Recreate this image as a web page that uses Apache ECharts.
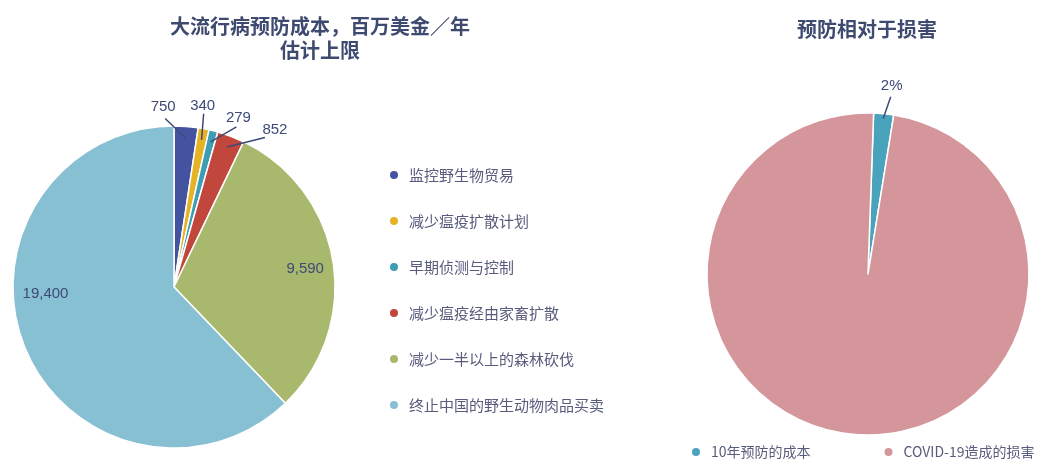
<!DOCTYPE html>
<html>
<head>
<meta charset="utf-8">
<script src="https://cdn.jsdelivr.net/npm/echarts@6/dist/echarts.min.js"></script>
<style>
html,body{margin:0;padding:0;background:#fff;}
#chart{width:1056px;height:466px;}
</style>
</head>
<body>
<div id="chart"></div>
<script>
// ---- data ----
const categories = ['监控野生物贸易', '减少瘟疫扩散计划', '早期侦测与控制', '减少瘟疫经由家畜扩散', '减少一半以上的森林砍伐', '终止中国的野生动物肉品买卖'];
const costValues = [750, 340, 279, 852, 9590, 19400];
const compareCategories = ['10年预防的成本', 'COVID-19造成的损害'];
const compareValues = [2, 98];

// ---- styling / layout ----
const costColors = ['#4353a0', '#e6b324', '#3c9db3', '#c1463c', '#a8b86c', '#88c0d3'];
const compareColors = ['#4aa3bc', '#d4969a'];
const LABEL_COLOR = '#3d4a78';
const LEFT = { cx: 174, cy: 287, r: 161, start: 90 };
const RIGHT = { cx: 868, cy: 274, r: 161, start: 88 };
// label offsets from the slice's outer edge point, and leader-line start relative to label centre
const costLabelOffsets = [[-23, -20], [-1, -23], [25, -13], [44, -7]];
const costLineStarts = [[2, 12], [1, 8], [-2, 9], [-10, 8]];
// inside label offsets from the point at 0.8 radius
const costInsideOffsets = { 4: [4, 2], 5: [-9, -41] };
const compareLabelOffset = [8, -28];
const compareLineStart = [-1, 11];

function midAngle(values, i, start) {
  const total = values.reduce((a, b) => a + b, 0);
  let cum = 0;
  for (let k = 0; k < i; k++) cum += values[k];
  return (90 - start) + 360 * (cum + values[i] / 2) / total;
}
function pt(g, frac, deg) {
  const a = deg * Math.PI / 180;
  return [g.cx + g.r * frac * Math.sin(a), g.cy - g.r * frac * Math.cos(a)];
}
function fmt(v) { return v.toLocaleString('en-US'); }

// label positions derived from slice geometry
function costLabelPos(i) {
  const th = midAngle(costValues, i, LEFT.start);
  if (i >= 4) {
    const c = pt(LEFT, 0.8, th);
    const o = costInsideOffsets[i];
    return [c[0] + o[0], c[1] + o[1]];
  }
  const edge = pt(LEFT, 1.0, th);
  const o = costLabelOffsets[i];
  return [edge[0] + o[0], edge[1] + o[1]];
}
function compareLabelPos() {
  const th = midAngle(compareValues, 0, RIGHT.start);
  const edge = pt(RIGHT, 1.0, th);
  return [edge[0] + compareLabelOffset[0], edge[1] + compareLabelOffset[1]];
}

// leader lines (drawn on top of the slices)
const leaderLines = [];
for (let i = 0; i < 4; i++) {
  const lp = costLabelPos(i);
  const inner = pt(LEFT, 0.93, midAngle(costValues, i, LEFT.start));
  leaderLines.push([lp[0] + costLineStarts[i][0], lp[1] + costLineStarts[i][1], inner[0], inner[1]]);
}
{
  const lp = compareLabelPos();
  const inner = pt(RIGHT, 0.97, midAngle(compareValues, 0, RIGHT.start));
  leaderLines.push([lp[0] + compareLineStart[0], lp[1] + compareLineStart[1], inner[0], inner[1]]);
}

const chart = echarts.init(document.getElementById('chart'));

const costData = categories.map((name, i) => {
  const item = { name: name, value: costValues[i], itemStyle: { color: costColors[i] } };
  if (i >= 4) item.label = { position: 'inside' };
  return item;
});
const compareData = compareCategories.map((name, i) => {
  const item = { name: name, value: compareValues[i], itemStyle: { color: compareColors[i] } };
  if (i === 1) item.label = { show: false };
  return item;
});

const labelBase = {
  show: true,
  color: LABEL_COLOR,
  fontSize: 15,
  fontFamily: 'Liberation Sans, Arial, sans-serif'
};
const titleStyle = { fontSize: 20, lineHeight: 24, fontWeight: 'bold', color: '#3e4a70', fontFamily: 'Noto Sans CJK SC' };
const legendText = { lineHeight: 20, color: '#585c7c', fontFamily: 'Noto Sans CJK SC', padding: [0, 0, 0, 5] };

chart.setOption({
  backgroundColor: '#ffffff',
  animation: false,
  title: [
    { text: '大流行病预防成本，百万美金／年\n估计上限', left: 320, top: 14, padding: 0, textAlign: 'center', textStyle: titleStyle },
    { text: '预防相对于损害', left: 867, top: 17, padding: 0, textAlign: 'center', textStyle: titleStyle }
  ],
  legend: [
    {
      data: categories,
      orient: 'vertical',
      left: 388, top: 165, padding: 0,
      itemWidth: 10, itemHeight: 10, icon: 'circle',
      itemGap: 26,
      selectedMode: false,
      textStyle: Object.assign({ fontSize: 15 }, legendText)
    },
    {
      data: compareCategories,
      orient: 'horizontal',
      left: 690, top: 442, padding: 0,
      itemWidth: 10, itemHeight: 10, icon: 'circle',
      itemGap: 72,
      selectedMode: false,
      textStyle: Object.assign({ fontSize: 14 }, legendText)
    }
  ],
  graphic: leaderLines.map(l => ({
    type: 'line',
    z: 100,
    silent: true,
    shape: { x1: l[0], y1: l[1], x2: l[2], y2: l[3] },
    style: { stroke: LABEL_COLOR, lineWidth: 1.5 }
  })),
  series: [
    {
      type: 'pie',
      center: [LEFT.cx, LEFT.cy],
      radius: LEFT.r,
      startAngle: LEFT.start,
      clockwise: true,
      avoidLabelOverlap: false,
      emphasis: { disabled: true },
      itemStyle: { borderColor: '#ffffff', borderWidth: 1.5 },
      label: Object.assign({ position: 'outside', formatter: p => fmt(p.value) }, labelBase),
      labelLine: { show: false },
      labelLayout: function (p) {
        const c = costLabelPos(p.dataIndex);
        return { x: c[0], y: c[1], align: 'center', verticalAlign: 'middle' };
      },
      data: costData
    },
    {
      type: 'pie',
      center: [RIGHT.cx, RIGHT.cy],
      radius: RIGHT.r,
      startAngle: RIGHT.start,
      clockwise: true,
      avoidLabelOverlap: false,
      emphasis: { disabled: true },
      itemStyle: { borderColor: '#ffffff', borderWidth: 1.5 },
      label: Object.assign({ position: 'outside', formatter: p => p.value + '%' }, labelBase),
      labelLine: { show: false },
      labelLayout: function (p) {
        if (p.dataIndex !== 0) return {};
        const c = compareLabelPos();
        return { x: c[0], y: c[1], align: 'center', verticalAlign: 'middle' };
      },
      data: compareData
    }
  ]
});
</script>
</body>
</html>
